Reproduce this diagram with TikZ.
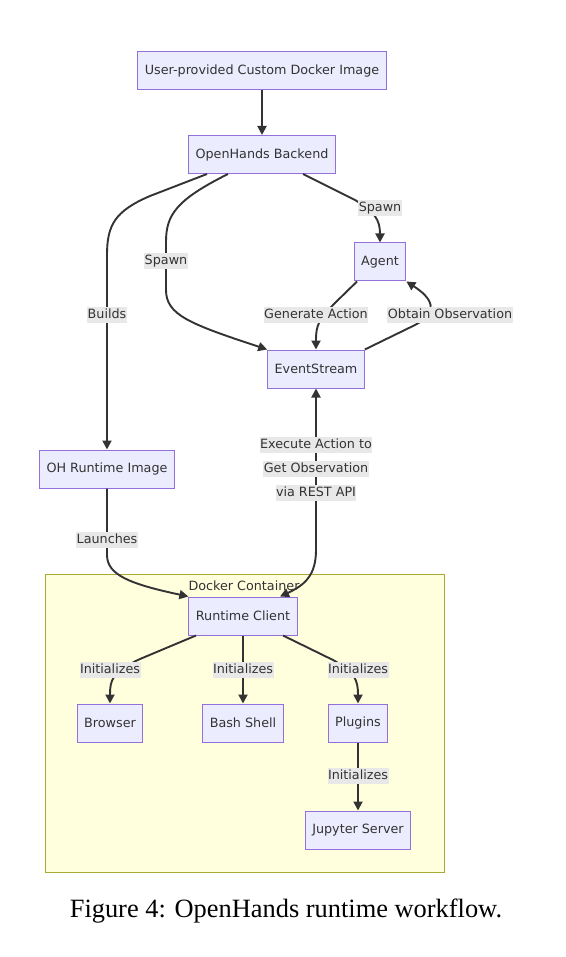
\documentclass[tikz,border=0pt]{standalone}
\usepackage{fontspec}
\setmainfont{DejaVu Sans}
\newfontfamily\capfont{Liberation Serif}
\usetikzlibrary{arrows.meta,calc}
\definecolor{nodefill}{HTML}{ECECFF}
\definecolor{nodedraw}{HTML}{9370DB}
\definecolor{clusterfill}{HTML}{FFFFDE}
\definecolor{clusterdraw}{HTML}{AAAA33}
\definecolor{edgecol}{HTML}{333333}
\definecolor{labelfill}{HTML}{E8E8E8}
\definecolor{textcol}{HTML}{333333}
\tikzset{
  mfont/.style={font=\fontsize{12.75pt}{15pt}\selectfont},
  box/.style={mfont, draw=nodedraw, fill=nodefill, line width=1pt, inner xsep=7pt, inner ysep=0pt, minimum height=38pt, text=textcol},
  elabel/.style={mfont, fill=labelfill, text=textcol, inner xsep=0.5pt, inner ysep=1.5pt, text height=10pt, text depth=3pt},
  conn/.style={draw=edgecol, line width=1.9pt, -{Triangle[length=9pt,width=9pt]}},
  bconn/.style={draw=edgecol, line width=1.9pt, {Triangle[length=9pt,width=9pt]}-{Triangle[length=9pt,width=9pt]}},
}
\begin{document}
\begin{tikzpicture}[x=1pt,y=-1pt]
\useasboundingbox[fill=white] (0,0) rectangle (565,957);
% cluster
\node[draw=clusterdraw, fill=clusterfill, line width=1pt, minimum width=399pt, minimum height=298pt, inner sep=0pt] (cluster) at (244.5,723) {};
\node[mfont, text=textcol, inner sep=0pt] (clusterlabel) at (244,586) {Docker Container};
% nodes
\node[box] (user) at (262,71) {User-provided Custom Docker Image};
\node[box] (backend) at (262,154.5) {OpenHands Backend};
\node[box] (agent) at (380,262) {Agent};
\node[box] (es) at (316,369) {EventStream};
\node[box] (ohimg) at (107,469) {OH Runtime Image};
\node[box] (rc) at (243,616) {Runtime Client};
\node[box] (browser) at (110,723) {Browser};
\node[box] (bash) at (243,723) {Bash Shell};
\node[box] (plugins) at (358,723) {Plugins};
\node[box] (jupyter) at (358,830) {Jupyter Server};
% edges
\draw[conn] (user) -- (backend);
\draw[conn] ([xshift=-55pt]backend.south) -- (150,196) .. controls (115,211) and (107,225) .. (107,255) -- (ohimg.north);
\draw[conn] ([xshift=-34pt]backend.south) .. controls (176,200) and (166,215) .. (166,242) -- (166,290) .. controls (166,315) and (190,324) .. (es.north west);
\draw[conn] ([xshift=41pt]backend.south) -- (355,200) .. controls (375,212) and (380,220) .. (agent.north);
\draw[conn] ([xshift=-23pt]agent.south) -- (337,301) .. controls (318,320) and (316,325) .. (es.north);
\draw[conn] (es.north east) -- (415,325) .. controls (440,312) and (432,298) .. (agent.south east);
\draw[bconn] ([xshift=37pt]rc.north) .. controls (305,585) and (316,575) .. (316,550) -- (es.south);
\draw[conn] (ohimg.south) -- (107,555) .. controls (107,575) and (130,584) .. (rc.north west);
\draw[conn] ([xshift=-47pt]rc.south) -- (140,659) .. controls (112,672) and (110,680) .. (browser.north);
\draw[conn] (rc.south) -- (bash.north);
\draw[conn] ([xshift=40pt]rc.south) -- (333,660) .. controls (355,672) and (358,680) .. (plugins.north);
\draw[conn] (plugins) -- (jupyter);
% edge labels
\node[elabel] (l1) at (380,208) {Spawn};
\node[elabel] (l2) at (166,261) {Spawn};
\node[elabel] (l3) at (107,315) {Builds};
\node[elabel] (l4) at (316,315) {Generate Action};
\node[elabel] (l5) at (450,315) {Obtain Observation};
\node[elabel] (l6a) at (316,445) {Execute Action to};
\node[elabel] (l6b) at (316,469) {Get Observation};
\node[elabel] (l6c) at (316,493) {via REST API};
\node[elabel] (l7) at (107,540) {Launches};
\node[elabel] (l8) at (110,670) {Initializes};
\node[elabel] (l9) at (243,670) {Initializes};
\node[elabel] (l10) at (358,670) {Initializes};
\node[elabel] (l11) at (358,776) {Initializes};
% caption
\node[font=\capfont\fontsize{26.4pt}{30pt}\selectfont, text=black, inner sep=0pt, anchor=base] (caption) at (286,917) {Figure 4: OpenHands runtime workflow.};
\end{tikzpicture}
\end{document}
